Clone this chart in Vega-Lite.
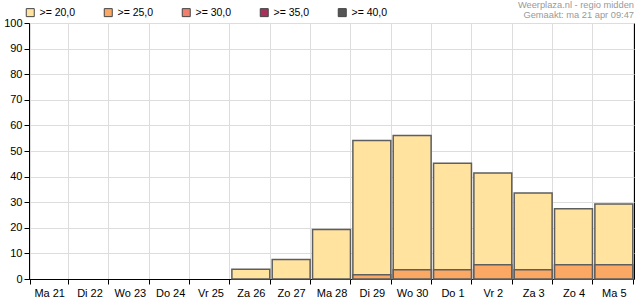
{
  "$schema": "https://vega.github.io/schema/vega-lite/v6.json",
  "width": 635,
  "height": 300,
  "autosize": {"type": "fit", "contains": "padding"},
  "padding": {"left": 3, "top": 0, "right": 1, "bottom": 2},
  "background": "#ffffff",
  "title": {
    "text": ["Weerplaza.nl - regio midden", "Gemaakt: ma 21 apr 09:47"],
    "anchor": "end",
    "frame": "group",
    "align": "right",
    "font": "Liberation Sans",
    "fontSize": 9.3,
    "fontWeight": "normal",
    "lineHeight": 10,
    "color": "#999999",
    "offset": -3
  },
  "config": {
    "view": {"stroke": "#000000", "strokeWidth": 1},
    "font": "Liberation Sans"
  },
  "data": {
    "values": [
      {"dag": "Za 26", "klasse": ">= 20,0", "kans": 3.8},
      {"dag": "Zo 27", "klasse": ">= 20,0", "kans": 7.6},
      {"dag": "Ma 28", "klasse": ">= 20,0", "kans": 19.3},
      {"dag": "Di 29", "klasse": ">= 20,0", "kans": 54.1},
      {"dag": "Wo 30", "klasse": ">= 20,0", "kans": 56.1},
      {"dag": "Do 1", "klasse": ">= 20,0", "kans": 45.2},
      {"dag": "Vr 2", "klasse": ">= 20,0", "kans": 41.4},
      {"dag": "Za 3", "klasse": ">= 20,0", "kans": 33.6},
      {"dag": "Zo 4", "klasse": ">= 20,0", "kans": 27.4},
      {"dag": "Ma 5", "klasse": ">= 20,0", "kans": 29.3},
      {"dag": "Di 29", "klasse": ">= 25,0", "kans": 1.7},
      {"dag": "Wo 30", "klasse": ">= 25,0", "kans": 3.6},
      {"dag": "Do 1", "klasse": ">= 25,0", "kans": 3.6},
      {"dag": "Vr 2", "klasse": ">= 25,0", "kans": 5.6},
      {"dag": "Za 3", "klasse": ">= 25,0", "kans": 3.6},
      {"dag": "Zo 4", "klasse": ">= 25,0", "kans": 5.6},
      {"dag": "Ma 5", "klasse": ">= 25,0", "kans": 5.6}
    ]
  },
  "mark": {"type": "bar", "stroke": "#5e5e5e", "strokeWidth": 1.5},
  "encoding": {
    "x": {
      "field": "dag",
      "type": "nominal",
      "sort": null,
      "scale": {
        "domain": ["Ma 21", "Di 22", "Wo 23", "Do 24", "Vr 25", "Za 26", "Zo 27", "Ma 28", "Di 29", "Wo 30", "Do 1", "Vr 2", "Za 3", "Zo 4", "Ma 5"],
        "paddingInner": 0.06,
        "paddingOuter": 0.03
      },
      "axis": {
        "title": null,
        "labelAngle": 0,
        "tickBand": "extent",
        "grid": true,
        "gridColor": "#dddddd",
        "domainColor": "#000000",
        "tickColor": "#000000",
        "tickSize": 5,
        "labelColor": "#000000",
        "labelFontSize": 11,
        "labelPadding": 3
      }
    },
    "y": {
      "field": "kans",
      "type": "quantitative",
      "stack": null,
      "scale": {"domain": [0, 100], "nice": false},
      "axis": {
        "title": null,
        "values": [0, 10, 20, 30, 40, 50, 60, 70, 80, 90, 100],
        "grid": true,
        "gridColor": "#dddddd",
        "domainColor": "#000000",
        "tickColor": "#000000",
        "tickSize": 5,
        "labelColor": "#000000",
        "labelFontSize": 11,
        "labelPadding": 2
      }
    },
    "color": {
      "field": "klasse",
      "type": "nominal",
      "scale": {
        "domain": [">= 20,0", ">= 25,0", ">= 30,0", ">= 35,0", ">= 40,0"],
        "range": ["#ffe39f", "#fba864", "#f07f6e", "#a8315c", "#555555"]
      },
      "legend": {
        "title": null,
        "orient": "none",
        "legendX": -4,
        "legendY": -16,
        "direction": "horizontal",
        "columns": 5,
        "symbolType": "square",
        "symbolSize": 64,
        "symbolStrokeColor": "#444444",
        "symbolStrokeWidth": 1,
        "symbolOpacity": 1,
        "labelFontSize": 10.5,
        "labelColor": "#000000",
        "labelOffset": 4,
        "columnPadding": 26,
        "gridAlign": "all"
      }
    }
  }
}
